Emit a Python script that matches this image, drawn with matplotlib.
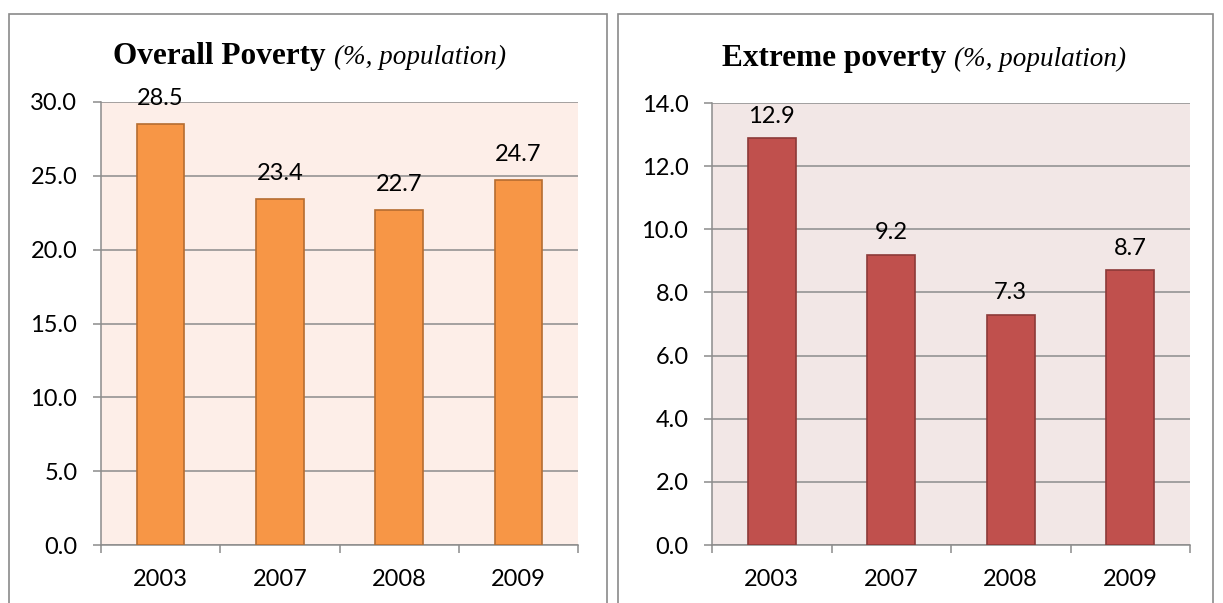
import numpy as np
import matplotlib
matplotlib.use('Agg')
import matplotlib.pyplot as plt
from matplotlib.patches import Rectangle

years = ['2003', '2007', '2008', '2009']
overall = [28.5, 23.4, 22.7, 24.7]
extreme = [12.9, 9.2, 7.3, 8.7]

W, H = 1223, 603
fig = plt.figure(figsize=(W/100, H/100), dpi=100)

LABEL_FONT = 'Lato'
TITLE_FONT = 'Liberation Serif'


def px_axes(x0, x1, ytop, ybot):
    return fig.add_axes([x0/W, (H-ybot)/H, (x1-x0)/W, (ybot-ytop)/H])


def panel(x0, x1, box, vals, ymax, ystep, face, bar, edge, title_bold, title_it, tx, ty, loff):
    # outer frame of the panel
    fig.patches.append(Rectangle((x0/W, -0.05), (x1-x0)/W, (H-14)/H + 0.05,
                                 transform=fig.transFigure, fill=False,
                                 edgecolor='#8a8a8a', linewidth=1.2))
    ax = px_axes(*box)
    ax.set_facecolor(face)
    x = np.arange(len(vals))
    ax.bar(x, vals, width=0.4, color=bar, edgecolor=edge, linewidth=1.2, zorder=3)
    for xi, v in zip(x, vals):
        ax.annotate('%.1f' % v, (xi, v), xytext=(0, loff), textcoords='offset points',
                    ha='center', va='bottom', fontsize=17, family=LABEL_FONT)
    ax.set_xlim(-0.5, len(vals) - 0.5)
    ax.set_ylim(0, ymax)
    ticks = np.arange(0, ymax + 0.01, ystep)
    ax.set_yticks(ticks)
    ax.set_yticklabels(['%.1f' % t for t in ticks], fontsize=17, family=LABEL_FONT)
    ax.yaxis.grid(True, color='#8c8c8c', linewidth=1.1, zorder=1)
    ax.set_axisbelow(True)
    ax.set_xticks(x)
    ax.set_xticklabels(years, fontsize=17, family=LABEL_FONT)
    ax.set_xticks(np.arange(len(vals) + 1) - 0.5, minor=True)
    ax.tick_params(axis='x', which='major', length=0, pad=17)
    ax.tick_params(axis='x', which='minor', length=6, width=1.1, color='#8c8c8c')
    ax.tick_params(axis='y', length=6, width=1.1, color='#8c8c8c', pad=11)
    for s in ['top', 'right']:
        ax.spines[s].set_visible(False)
    for s in ['left', 'bottom']:
        ax.spines[s].set_color('#8c8c8c')
        ax.spines[s].set_linewidth(1.1)
    t = fig.text(tx/W, (H-ty)/H, title_bold, family=TITLE_FONT, weight='bold',
                 fontsize=22.5, ha='left', va='baseline')
    fig.canvas.draw()
    bb = t.get_window_extent()
    fig.text((bb.x1 + 8)/W, (H-ty)/H, title_it, family=TITLE_FONT, style='italic',
             fontsize=19.5, ha='left', va='baseline')
    return ax


panel(9, 607, (101, 578, 102, 545), overall, 30, 5, '#fdeee8', '#f79646', '#b66d31',
      'Overall Poverty', '(%, population)', 113, 64, 11)
panel(618, 1213, (712, 1190, 103, 545), extreme, 14, 2, '#f2e7e6', '#c0504d', '#8c3a38',
      'Extreme poverty', '(%, population)', 722, 66, 8)

fig.savefig('out.png', dpi=100)
